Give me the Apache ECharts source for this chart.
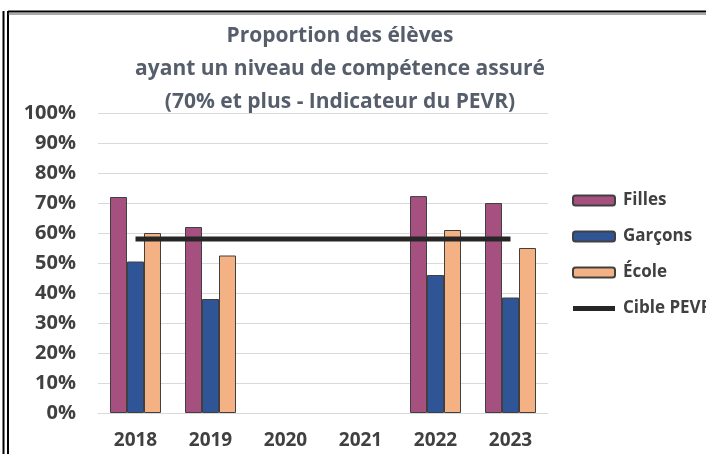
<!DOCTYPE html>
<html>
<head>
<meta charset="utf-8">
<script src="https://cdn.jsdelivr.net/npm/echarts@6/dist/echarts.min.js"></script>
<style>
  html, body { margin: 0; padding: 0; background: #fff; }
  #chart { width: 706px; height: 454px; }
</style>
</head>
<body>
<div id="chart"></div>
<script>
const years = ['2018', '2019', '2020', '2021', '2022', '2023'];
const filles = [72, 62, null, null, 72.3, 70];
const garcons = [50.5, 38, null, null, 46, 38.5];
const ecole = [60, 52.5, null, null, 61, 55];
const cible = [58, 58, 58, 58, 58, 58];

const labelColor = '#404040';
const chart = echarts.init(document.getElementById('chart'));

function bar(name, data, color) {
    return {
        name: name, type: 'bar', data: data,
        barGap: 0, barCategoryGap: '32%',
        itemStyle: {color: color, borderColor: '#404040', borderWidth: 1}
    };
}

chart.setOption({
    animation: false,
    title: {
        text: 'Proportion des élèves\nayant un niveau de compétence assuré\n(70% et plus - Indicateur du PEVR)',
        left: 335, top: 15, textAlign: 'center',
        textStyle: {fontFamily: 'Open Sans', fontSize: 21, fontWeight: 'bold', color: '#565e6c', lineHeight: 33}
    },
    legend: {
        orient: 'vertical', left: 567, top: 185,
        itemWidth: 42, itemHeight: 10, itemGap: 15,
        data: [
            'Filles', 'Garçons', 'École',
            {name: 'Cible PEVR', icon: 'path://M0,0H42V5H0Z', itemStyle: {color: '#262626'}}
        ],
        textStyle: {fontFamily: 'Open Sans', fontSize: 17, fontWeight: 'bold', color: labelColor, lineHeight: 21, padding: [0, 0, 0, 3]}
    },
    grid: {left: 98, right: 158, top: 113, bottom: 41},
    xAxis: {
        type: 'category', data: years,
        axisLine: {lineStyle: {color: '#d9d9d9'}},
        axisTick: {show: false},
        axisLabel: {margin: 18, fontFamily: 'Open Sans', fontSize: 19, fontWeight: 'bold', color: labelColor}
    },
    yAxis: {
        type: 'value', min: 0, max: 100, interval: 10,
        axisLabel: {formatter: '{value}%', margin: 22, fontFamily: 'Open Sans', fontSize: 20, fontWeight: 'bold', color: labelColor},
        splitLine: {lineStyle: {color: '#d9d9d9'}}
    },
    series: [
        bar('Filles', filles, '#a5507e'),
        bar('Garçons', garcons, '#2f5597'),
        bar('École', ecole, '#f4b183'),
        {
            name: 'Cible PEVR', type: 'line', data: cible,
            symbol: 'none', color: '#262626',
            lineStyle: {width: 5, color: '#262626'}
        }
    ],
    graphic: [
        {type: 'line', shape: {x1: 3.5, y1: 11, x2: 3.5, y2: 454}, style: {stroke: '#000', lineWidth: 2}},
        {type: 'line', shape: {x1: 8, y1: 11, x2: 8, y2: 454}, style: {stroke: '#000', lineWidth: 2}},
        {type: 'line', shape: {x1: 8, y1: 11.5, x2: 706, y2: 11.5}, style: {stroke: '#000', lineWidth: 2}},
        {type: 'line', shape: {x1: 8, y1: 14, x2: 706, y2: 14}, style: {stroke: '#555', lineWidth: 1}}
    ]
});
</script>
</body>
</html>
